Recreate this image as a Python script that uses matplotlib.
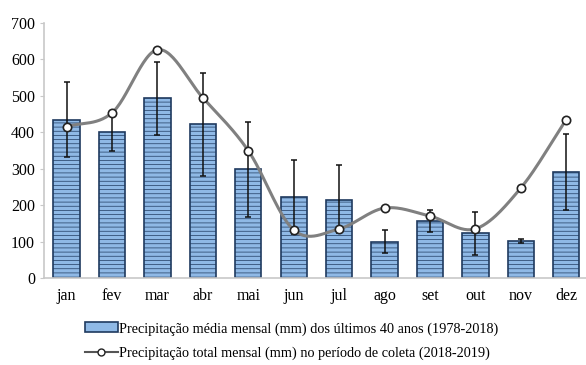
import numpy as np
import matplotlib
matplotlib.use('Agg')
import matplotlib.pyplot as plt
from matplotlib.lines import Line2D
from matplotlib.patches import Patch

meses = ['jan', 'fev', 'mar', 'abr', 'mai', 'jun', 'jul', 'ago', 'set', 'out', 'nov', 'dez']
media = [434, 401, 494, 423, 299, 222, 214, 99, 157, 124, 102, 291]
erro_sup = [104, 50, 99, 140, 130, 102, 96, 33, 30, 57, 6, 105]
erro_inf = [102, 52, 101, 143, 131, 102, 90, 30, 31, 61, 6, 104]
total = [415, 453, 626, 494, 349, 132, 135, 192, 170, 135, 247, 434]

plt.rcParams['font.family'] = ['Liberation Serif', 'DejaVu Serif']


def suaviza(xs, ys, n=30):
    # catmull-rom, parecido com a linha suavizada do Excel
    xs = np.asarray(xs, float)
    ys = np.asarray(ys, float)
    px = np.concatenate([[2 * xs[0] - xs[1]], xs, [2 * xs[-1] - xs[-2]]])
    py = np.concatenate([[2 * ys[0] - ys[1]], ys, [2 * ys[-1] - ys[-2]]])
    out_x, out_y = [], []
    t = np.linspace(0, 1, n)
    for i in range(1, len(px) - 2):
        for p, o in ((px, out_x), (py, out_y)):
            p0, p1, p2, p3 = p[i - 1], p[i], p[i + 1], p[i + 2]
            o.extend(0.5 * ((2 * p1) + (-p0 + p2) * t
                            + (2 * p0 - 5 * p1 + 4 * p2 - p3) * t ** 2
                            + (-p0 + 3 * p1 - 3 * p2 + p3) * t ** 3))
    return out_x, out_y


x = np.arange(len(meses))
fig = plt.figure(figsize=(5.86, 3.65), dpi=100)
ax = fig.add_axes([0.075, 0.238, 0.93, 0.70])

plt.rcParams['hatch.color'] = '#aacbee'
plt.rcParams['hatch.linewidth'] = 0.5
ax.bar(x, media, 0.58, color='#8fb9e6', edgecolor='#1f3a5f', linewidth=1.2,
       hatch='----', zorder=2)
ax.errorbar(x, media, yerr=[erro_inf, erro_sup], fmt='none', ecolor='#111111',
            elinewidth=1.1, capsize=2.5, capthick=1.1, zorder=3)
sx, sy = suaviza(x, total)
ax.plot(sx, sy, color='#808080', linewidth=2.2, zorder=4)
ax.plot(x, total, 'o', markersize=6, markerfacecolor='white',
        markeredgecolor='#222222', markeredgewidth=1.2, zorder=5)

ax.set_xlim(-0.5, 11.5)
ax.set_ylim(0, 700)
ax.set_yticks(range(0, 701, 100))
ax.set_xticks(x)
ax.set_xticklabels(meses)
for s in ['top', 'right']:
    ax.spines[s].set_visible(False)
for s in ['left', 'bottom']:
    ax.spines[s].set_color('#c8c8c8')
    ax.spines[s].set_linewidth(1.2)
ax.tick_params(axis='y', length=3, color='#c8c8c8', labelsize=11.5)
ax.tick_params(axis='x', length=0, labelsize=11.5, pad=7)

h1 = Patch(facecolor='#8fb9e6', edgecolor='#1f3a5f', linewidth=1.2)
h2 = Line2D([], [], color='#555555', linewidth=1.5, marker='o', markersize=5,
            markerfacecolor='white', markeredgecolor='#222222')
fig.legend([h1, h2],
           ['Precipitação média mensal (mm) dos últimos 40 anos (1978-2018)',
            'Precipitação total mensal (mm) no período de coleta (2018-2019)'],
           loc='upper left', bbox_to_anchor=(0.135, 0.133), frameon=False,
           fontsize=10.3, handlelength=2.3, handletextpad=0.1, labelspacing=0.75,
           borderaxespad=0)

fig.savefig('out.png', dpi=100)
